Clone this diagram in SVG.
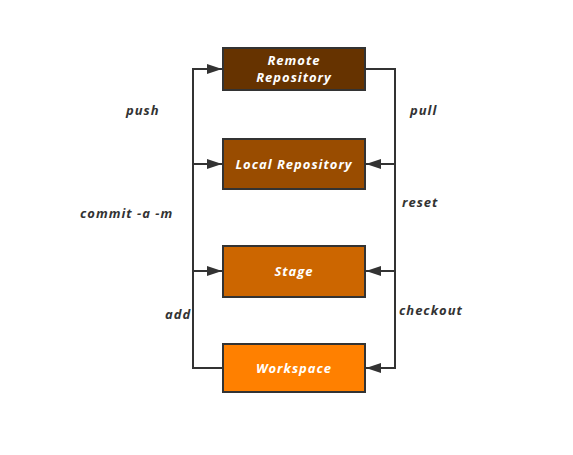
<svg xmlns="http://www.w3.org/2000/svg" width="573" height="455" viewBox="0 0 573 455">
<defs>
<style>
.box{stroke:#333;stroke-width:2}
.bt{font-family:"Open Sans","DejaVu Sans",sans-serif;font-size:13px;font-weight:bold;font-style:italic;fill:#fff;text-anchor:middle;letter-spacing:1px}
.lb{font-family:"Open Sans","DejaVu Sans",sans-serif;font-size:13px;font-weight:bold;font-style:italic;fill:#333;letter-spacing:1px}
.ln{fill:none;stroke:#333;stroke-width:2}
</style>
<marker id="ah" viewBox="0 0 15 10" refX="15" refY="5" markerWidth="15" markerHeight="10" markerUnits="userSpaceOnUse" orient="auto">
<path d="M0,0 L15,5 L0,10 Z" fill="#333"/>
</marker>
</defs>
<rect width="573" height="455" fill="#fff"/>
<g id="connectors">
<path class="ln" d="M223,368 H193 V69 H222" marker-end="url(#ah)"/>
<path class="ln" d="M193,164 H222" marker-end="url(#ah)"/>
<path class="ln" d="M193,271 H222" marker-end="url(#ah)"/>
<path class="ln" d="M365,69 H395 V368 H366" marker-end="url(#ah)"/>
<path class="ln" d="M395,164 H366" marker-end="url(#ah)"/>
<path class="ln" d="M395,271 H366" marker-end="url(#ah)"/>
<text class="lb" x="126" y="115">push</text>
<text class="lb" x="80" y="218">commit -a -m</text>
<text class="lb" x="165" y="319">add</text>
<text class="lb" x="410" y="115">pull</text>
<text class="lb" x="402" y="207">reset</text>
<text class="lb" x="399" y="315">checkout</text>
</g>
<g id="remote">
<rect class="box" x="223" y="48" width="142" height="42" fill="#663300"/>
<text class="bt" x="294" y="65">Remote</text>
<text class="bt" x="294" y="82">Repository</text>
</g>
<g id="local">
<rect class="box" x="223" y="139" width="142" height="50" fill="#994C00"/>
<text class="bt" x="294" y="169">Local Repository</text>
</g>
<g id="stage">
<rect class="box" x="223" y="246" width="142" height="51" fill="#CC6600"/>
<text class="bt" x="294" y="276">Stage</text>
</g>
<g id="workspace">
<rect class="box" x="223" y="344" width="142" height="48" fill="#FF8000"/>
<text class="bt" x="294" y="373">Workspace</text>
</g>
</svg>
